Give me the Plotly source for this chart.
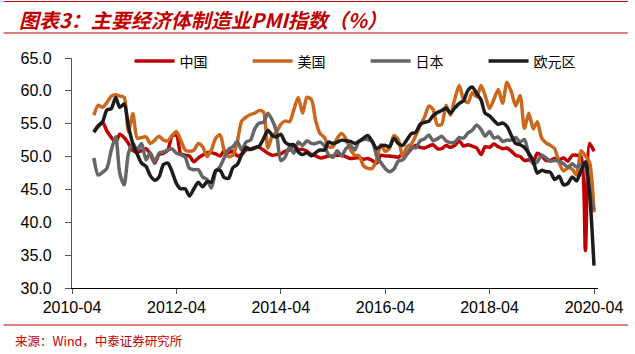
import pandas as pd
import plotly.graph_objects as go

# ---- data (monthly, 2010-09 .. 2020-04) ----
start_month = "2010-09-01"
n_months = 116

china = [53.8, 54.7, 55.2, 53.9,
         52.9, 52.2, 53.4, 52.9, 52.0, 50.9, 50.7, 50.9, 51.2, 50.4, 49.0, 50.3,
         50.5, 51.0, 53.1, 53.3, 50.4, 50.2, 50.1, 49.2, 49.8, 50.2, 50.6, 50.6,
         50.4, 50.1, 50.9, 50.6, 50.8, 50.1, 50.3, 51.0, 51.1, 51.4, 51.4, 51.0,
         50.5, 50.2, 50.3, 50.4, 50.8, 51.0, 51.7, 51.1, 51.1, 50.8, 50.3, 50.1,
         49.8, 49.9, 50.1, 50.1, 50.2, 50.2, 50.0, 49.7, 49.8, 49.8, 49.6, 49.7,
         49.4, 49.0, 50.2, 50.1, 50.1, 50.0, 49.9, 50.4, 50.4, 51.2, 51.7, 51.4,
         51.3, 51.6, 51.8, 51.2, 51.2, 51.7, 51.4, 51.7, 52.4, 51.6, 51.8, 51.6,
         51.3, 50.3, 51.5, 51.4, 51.9, 51.5, 51.2, 51.3, 50.8, 50.2, 50.0, 49.4,
         49.5, 49.2, 50.5, 50.1, 49.4, 49.4, 49.7, 49.5, 49.8, 49.3, 50.2, 50.2,
         50.0, 35.7, 52.0, 50.8]

usa = [56.3, 57.8, 57.5, 58.2,
       59.2, 59.4, 59.2, 59.0, 53.8, 56.5, 52.8, 52.9, 53.0, 52.0, 52.5, 53.1,
       52.5, 52.4, 53.2, 53.8, 52.5, 51.0, 50.8, 51.0, 52.0, 51.5, 50.0, 51.0,
       52.8, 53.3, 51.0, 50.0, 50.2, 52.3, 55.4, 56.0, 56.4, 56.6, 57.0, 56.8,
       51.3, 53.2, 53.7, 54.9, 55.4, 55.3, 57.1, 59.0, 56.6, 59.0, 58.7, 55.5,
       53.5, 52.9, 51.5, 51.5, 52.8, 53.5, 52.7, 51.1, 50.2, 50.1, 48.6, 48.2,
       48.2, 49.5, 51.8, 50.8, 51.3, 53.2, 52.6, 50.0, 51.5, 51.9, 53.2, 54.7,
       56.0, 57.7, 57.2, 54.8, 54.9, 57.8, 56.3, 58.8, 60.8, 58.7, 58.2, 59.7,
       59.1, 60.8, 59.3, 57.3, 58.7, 60.2, 58.1, 61.3, 59.8, 57.7, 59.3, 54.3,
       56.6, 54.2, 55.3, 52.8, 52.1, 51.7, 51.2, 49.1, 47.8, 48.3, 48.1, 47.2,
       50.9, 50.1, 49.1, 41.5]

japan = [49.8, 47.2, 47.6, 48.2,
         51.0, 53.0, 47.5, 45.7, 50.5, 52.0, 51.0, 52.0, 49.5, 50.6, 49.2, 50.5,
         50.7, 51.0, 51.2, 50.5, 50.3, 49.9, 48.2, 48.0, 48.0, 46.9, 46.5, 45.2,
         47.7, 48.5, 49.8, 51.1, 51.5, 52.3, 51.0, 52.2, 52.5, 54.2, 55.1, 55.2,
         56.6, 55.5, 53.9, 49.4, 49.9, 51.5, 50.5, 52.2, 51.7, 52.4, 52.0, 52.0,
         52.2, 51.6, 50.3, 49.9, 50.9, 50.1, 51.2, 51.7, 51.0, 52.4, 52.6, 52.6,
         52.3, 50.1, 49.1, 48.2, 47.7, 48.1, 49.3, 49.5, 50.4, 51.4, 51.3, 52.4,
         52.7, 53.3, 52.4, 52.7, 53.1, 52.4, 52.1, 52.2, 52.9, 52.8, 53.6, 54.0,
         54.8, 54.1, 53.1, 53.8, 52.8, 53.0, 52.3, 52.5, 52.5, 52.9, 52.2, 52.6,
         50.3, 48.9, 49.2, 50.2, 49.8, 49.3, 49.4, 49.3, 48.9, 48.4, 48.9, 48.4,
         48.8, 48.4, 44.8, 41.9]

euro = [53.7, 54.6, 55.3, 57.1,
        57.3, 59.0, 57.5, 58.0, 54.6, 52.0, 50.4, 49.0, 48.5, 47.1, 46.4, 46.9,
        48.8, 49.0, 47.7, 45.9, 45.1, 45.1, 44.0, 45.1, 46.1, 45.4, 46.2, 46.1,
        47.9, 47.9, 46.8, 46.7, 48.3, 48.8, 50.3, 51.4, 51.1, 51.3, 51.6, 52.7,
        54.0, 53.2, 53.0, 53.4, 52.2, 51.8, 51.8, 50.7, 50.3, 50.6, 50.1, 50.6,
        51.0, 51.0, 52.2, 52.0, 52.2, 52.5, 52.4, 52.3, 52.0, 52.3, 52.8, 53.2,
        52.3, 51.2, 51.6, 51.7, 51.5, 52.8, 52.0, 51.7, 52.6, 53.5, 53.7, 54.9,
        55.2, 55.4, 56.2, 56.7, 57.0, 57.4, 56.6, 57.4, 58.1, 58.5, 60.1, 60.6,
        59.6, 58.6, 56.6, 56.2, 55.5, 54.9, 55.1, 54.6, 53.2, 52.0, 51.8, 51.4,
        50.5, 49.3, 47.5, 47.9, 47.7, 47.6, 46.5, 47.0, 45.7, 45.9, 46.9, 46.3,
        47.9, 49.2, 44.5, 33.4]

series_names = ["中国", "美国", "日本", "欧元区"]
x_tick_labels = ["2010-04", "2012-04", "2014-04", "2016-04", "2018-04", "2020-04"]
y_ticks = [30, 35, 40, 45, 50, 55, 60, 65]

title_text = "<b><i>图表3：主要经济体制造业PMI指数（%）</i></b>"
source_text = "来源：Wind，中泰证券研究所"

# ---- figure ----
dates = pd.date_range(start_month, periods=n_months, freq="MS")
colors = ["#C00000", "#CC671E", "#666666", "#1C1C1C"]

W, H = 635, 354
ML, MR, MT, MB = 72, 33, 58, 66
PW, PH = W - ML - MR, H - MT - MB


def px_x(px):
    return (px - ML) / PW


def px_y(py):
    return (H - MB - py) / PH


fig = go.Figure()
for name, vals, col in zip(series_names, [china, usa, japan, euro], colors):
    fig.add_trace(go.Scatter(
        x=dates, y=vals, name=name, mode="lines",
        line=dict(color=col, width=3.5, shape="spline", smoothing=0.7),
    ))

tickvals = [pd.Timestamp(t + "-01") for t in x_tick_labels]

fig.update_layout(
    width=W, height=H,
    margin=dict(l=ML, r=MR, t=MT, b=MB, pad=0),
    paper_bgcolor="white", plot_bgcolor="white",
    showlegend=True,
    legend=dict(
        orientation="h", x=px_x(130), y=px_y(61.5), xanchor="left", yanchor="middle",
        bgcolor="rgba(0,0,0,0)", font=dict(family="Noto Sans CJK SC", size=14, color="#000000"),
        entrywidth=63, entrywidthmode="pixels", itemwidth=40,
    ),
    xaxis=dict(
        range=[pd.Timestamp("2010-04-01"), pd.Timestamp("2020-04-29")],
        tickvals=tickvals, ticktext=x_tick_labels,
        showgrid=False, zeroline=False,
        showline=True, linecolor="#000000", linewidth=1.3,
        ticks="outside", ticklen=5, tickcolor="#555555", tickwidth=1,
        tickfont=dict(family="Liberation Sans, Arial", size=16, color="#000000"),
    ),
    yaxis=dict(
        range=[30, 65], tickvals=y_ticks, tickformat=".1f",
        showgrid=False, zeroline=False,
        showline=True, linecolor="#555555", linewidth=1.3,
        ticks="outside", ticklen=6, tickcolor="#555555", tickwidth=1,
        ticklabelstandoff=10,
        tickfont=dict(family="Liberation Sans, Arial", size=16, color="#000000"),
    ),
)

# title, rules, source
fig.add_annotation(
    text=title_text, xref="paper", yref="paper", x=px_x(17), y=px_y(19),
    xanchor="left", yanchor="middle", showarrow=False,
    font=dict(family="Noto Sans CJK SC", size=20, color="#C00000"),
)
for yy in (1.5, 33):
    fig.add_shape(type="line", xref="paper", yref="paper",
                  x0=px_x(3), x1=px_x(632), y0=px_y(yy), y1=px_y(yy),
                  line=dict(color="#C00000", width=1.2))
fig.add_shape(type="line", xref="paper", yref="paper",
              x0=px_x(3), x1=px_x(632), y0=px_y(325), y1=px_y(325),
              line=dict(color="#C00000", width=1.2))
fig.add_annotation(
    text=source_text, xref="paper", yref="paper", x=px_x(13), y=px_y(340),
    xanchor="left", yanchor="middle", showarrow=False,
    font=dict(family="Noto Sans CJK SC", size=12.5, color="#C00000"),
)

fig.write_html("out.html")
